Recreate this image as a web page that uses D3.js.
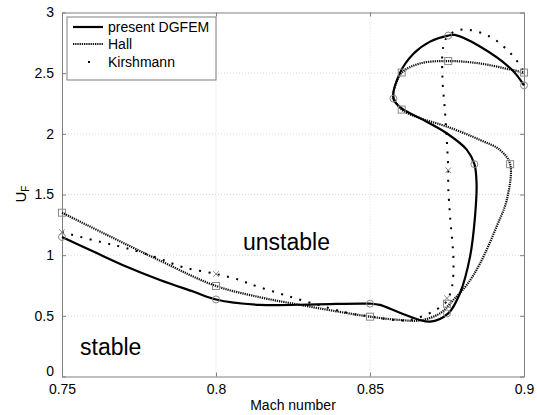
<!DOCTYPE html>
<html>
<head>
<meta charset="utf-8">
<script src="https://cdn.jsdelivr.net/npm/d3@7"></script>
<style>
  html, body { margin: 0; padding: 0; background: #fff; }
  svg { display: block; font-family: Arial, "Liberation Sans", sans-serif; }
</style>
</head>
<body>
<svg id="chart" width="537" height="415"></svg>
<script>
// Flutter boundary: flutter speed index U_F versus Mach number
const xTicks = [0.75, 0.8, 0.85, 0.9];
const xTickLabels = ["0.75", "0.8", "0.85", "0.9"];
const yTicks = [0, 0.5, 1, 1.5, 2, 2.5, 3];
const yTickLabels = ["0", "0.5", "1", "1.5", "2", "2.5", "3"];

// present DGFEM (solid curve, circles)
const dgfemMach = [0.75, 0.7602, 0.771, 0.7818, 0.7926, 0.8, 0.8143, 0.8327, 0.85, 0.8532, 0.8597, 0.8695, 0.8754, 0.8792, 0.8825, 0.8841, 0.8846, 0.8839, 0.8814, 0.8749, 0.8673, 0.8603, 0.8576, 0.8597, 0.8641, 0.8695, 0.8754, 0.8775, 0.8857, 0.896, 0.9];
const dgfemUF   = [1.15, 1.03, 0.905, 0.796, 0.70, 0.635, 0.59, 0.595, 0.6, 0.59, 0.526, 0.452, 0.52, 0.686, 0.99, 1.32, 1.59, 1.75, 1.87, 2.005, 2.115, 2.21, 2.29, 2.5, 2.66, 2.76, 2.81, 2.815, 2.72, 2.53, 2.4];
const dgfemMarkMach = [0.75, 0.8, 0.85, 0.875, 0.8839, 0.8576, 0.8754, 0.9];
const dgfemMarkUF   = [1.15, 0.635, 0.6, 0.52, 1.75, 2.29, 2.81, 2.4];

// Hall (dense dotted curve, squares)
const hallMach = [0.75, 0.7818, 0.8, 0.8143, 0.8273, 0.85, 0.8597, 0.8662, 0.8727, 0.877, 0.8814, 0.8857, 0.8911, 0.8944, 0.8955, 0.8922, 0.8857, 0.8749, 0.8662, 0.8603, 0.8576, 0.8587, 0.8603, 0.8662, 0.8754, 0.8857, 0.8955, 0.9];
const hallUF   = [1.35, 0.955, 0.746, 0.653, 0.59, 0.493, 0.466, 0.462, 0.52, 0.63, 0.754, 0.93, 1.235, 1.455, 1.75, 1.867, 1.95, 2.06, 2.13, 2.2, 2.31, 2.43, 2.505, 2.58, 2.6, 2.58, 2.53, 2.505];
const hallMarkMach = [0.75, 0.8, 0.85, 0.875, 0.8955, 0.8603, 0.8603, 0.8754, 0.9];
const hallMarkUF   = [1.35, 0.746, 0.493, 0.6, 1.75, 2.2, 2.505, 2.6, 2.505];

// Kirshmann (sparse dots, crosses)
const kirMach = [0.75, 0.7623, 0.771, 0.7807, 0.7894, 0.8, 0.8078, 0.811, 0.824, 0.837, 0.8435, 0.85, 0.863, 0.8738, 0.8754, 0.8767, 0.8771, 0.876, 0.8754, 0.8754, 0.875, 0.8744, 0.8735, 0.8738, 0.8754, 0.8803, 0.889, 0.8965, 0.9];
const kirUF   = [1.19, 1.11, 1.057, 0.98, 0.9, 0.845, 0.795, 0.763, 0.658, 0.562, 0.521, 0.495, 0.466, 0.59, 0.645, 0.75, 0.96, 1.32, 1.565, 1.7, 1.92, 2.17, 2.47, 2.72, 2.81, 2.86, 2.8, 2.64, 2.51];
const kirMarkMach = [0.75, 0.8, 0.875, 0.8754];
const kirMarkUF   = [1.19, 0.845, 0.645, 1.7];

const legendNames = ["present DGFEM", "Hall", "Kirshmann"];

const svg = d3.select("#chart");
const plot = { left: 62, right: 524, top: 12.5, bottom: 376.5 };

const x = d3.scaleLinear().domain([0.75, 0.9]).range([plot.left, plot.right]);
const y = d3.scaleLinear().domain([0, 3]).range([plot.bottom, plot.top]);

const frameColor = "#7f7f7f";
const gridColor = "#d9d9d9";

// grid lines
const grid = svg.append("g");
grid.selectAll("line.gx").data(xTicks.slice(1, -1)).join("line")
  .attr("x1", d => x(d)).attr("x2", d => x(d))
  .attr("y1", plot.top).attr("y2", plot.bottom)
  .attr("stroke", gridColor).attr("stroke-width", 1).attr("stroke-dasharray", "1,2");
grid.selectAll("line.gy").data(yTicks.slice(1, -1)).join("line")
  .attr("y1", d => y(d)).attr("y2", d => y(d))
  .attr("x1", plot.left).attr("x2", plot.right)
  .attr("stroke", gridColor).attr("stroke-width", 1).attr("stroke-dasharray", "1,2");

// axes with inward ticks on all four sides
const axisStyle = g => {
  g.select(".domain").attr("stroke", frameColor);
  g.selectAll(".tick line").attr("stroke", frameColor);
  g.selectAll(".tick text").attr("fill", "#000").style("font-size", "14px")
    .style("font-family", "Arial, 'Liberation Sans', sans-serif");
};
svg.append("g").attr("transform", `translate(0,${plot.bottom})`)
  .call(d3.axisBottom(x).tickValues(xTicks).tickFormat((d, i) => xTickLabels[i]).tickSizeInner(-4).tickSizeOuter(0).tickPadding(8))
  .call(axisStyle);
svg.append("g").attr("transform", `translate(0,${plot.top})`)
  .call(d3.axisTop(x).tickValues(xTicks).tickFormat("").tickSizeInner(-4).tickSizeOuter(0))
  .call(axisStyle);
svg.append("g").attr("transform", `translate(${plot.left},0)`)
  .call(d3.axisLeft(y).tickValues(yTicks).tickFormat((d, i) => yTickLabels[i]).tickSizeInner(-4).tickSizeOuter(0).tickPadding(8))
  .call(axisStyle)
  .call(g => g.selectAll(".tick text").filter(d => d === 0).attr("dy", "-0.05em"));
svg.append("g").attr("transform", `translate(${plot.right},0)`)
  .call(d3.axisRight(y).tickValues(yTicks).tickFormat("").tickSizeInner(-4).tickSizeOuter(0))
  .call(axisStyle);

// curves
const line = d3.line().x(d => x(d[0])).y(d => y(d[1])).curve(d3.curveCatmullRom.alpha(0.5));
const zip = (a, b) => a.map((v, i) => [v, b[i]]);

const curves = svg.append("g");
curves.append("path").datum(zip(hallMach, hallUF)).attr("d", line)
  .attr("fill", "none").attr("stroke", "#111").attr("stroke-width", 2.2).attr("stroke-dasharray", "1.3,0.9");
curves.append("path").datum(zip(kirMach, kirUF)).attr("d", line)
  .attr("fill", "none").attr("stroke", "#000").attr("stroke-width", 2).attr("stroke-dasharray", "2,7.5");
curves.append("path").datum(zip(dgfemMach, dgfemUF)).attr("d", line)
  .attr("fill", "none").attr("stroke", "#000").attr("stroke-width", 2.2);

// markers
const markColor = "#8a8a8a";
const marks = svg.append("g").attr("fill", "none").attr("stroke", markColor).attr("stroke-width", 1);
marks.selectAll("circle").data(zip(dgfemMarkMach, dgfemMarkUF)).join("circle")
  .attr("cx", d => x(d[0])).attr("cy", d => y(d[1])).attr("r", 3.5);
marks.selectAll("rect").data(zip(hallMarkMach, hallMarkUF)).join("rect")
  .attr("x", d => x(d[0]) - 3.5).attr("y", d => y(d[1]) - 3.5).attr("width", 7).attr("height", 7);
marks.selectAll("path.cross").data(zip(kirMarkMach, kirMarkUF)).join("path").attr("class", "cross")
  .attr("d", d => { const cx = x(d[0]), cy = y(d[1]), s = 2.8;
    return `M${cx - s},${cy - s}L${cx + s},${cy + s}M${cx - s},${cy + s}L${cx + s},${cy - s}`; });

// region labels
svg.append("text").attr("x", 243).attr("y", 250).style("font-size", "23px").text("unstable");
svg.append("text").attr("x", 80).attr("y", 355).style("font-size", "23px").text("stable");

// axis titles
svg.append("text").attr("x", (plot.left + plot.right) / 2).attr("y", 410).attr("text-anchor", "middle")
  .style("font-size", "14px").text("Mach number");
const yt = svg.append("text").attr("transform", "translate(26,194) rotate(-90)").attr("text-anchor", "middle")
  .style("font-size", "15px");
yt.append("tspan").text("U");
yt.append("tspan").attr("dy", 3).style("font-size", "10px").text("F");

// legend
const lg = svg.append("g");
lg.append("rect").attr("x", 67).attr("y", 17).attr("width", 149).attr("height", 63)
  .attr("fill", "#fff").attr("stroke", frameColor).attr("stroke-width", 1);
const rowY = [27, 44, 62];
lg.append("line").attr("x1", 73).attr("x2", 103).attr("y1", rowY[0]).attr("y2", rowY[0])
  .attr("stroke", "#000").attr("stroke-width", 2.2);
lg.append("line").attr("x1", 73).attr("x2", 103).attr("y1", rowY[1]).attr("y2", rowY[1])
  .attr("stroke", "#111").attr("stroke-width", 2.2).attr("stroke-dasharray", "1.3,0.9");
lg.append("rect").attr("x", 88).attr("y", rowY[2] - 1).attr("width", 2).attr("height", 2).attr("fill", "#000");
lg.selectAll("text").data(legendNames).join("text")
  .attr("x", 108).attr("y", (d, i) => rowY[i] + 5).style("font-size", "14px").text(d => d);
</script>
</body>
</html>
